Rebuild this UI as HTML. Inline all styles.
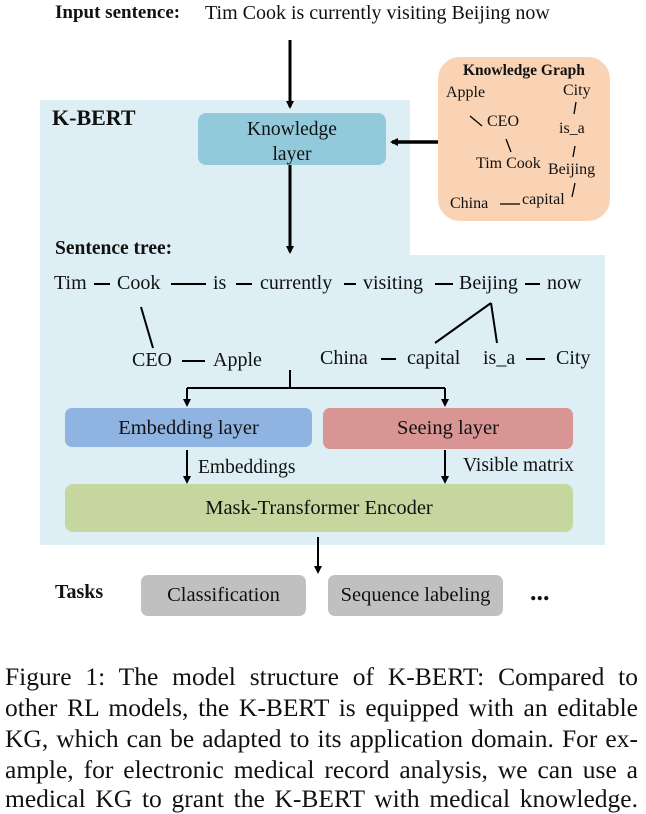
<!DOCTYPE html>
<html><head><style>
body{margin:0;width:646px;height:810px;background:#fff;position:relative;font-family:"Liberation Serif",serif;overflow:hidden;color:#111}
.a{position:absolute;white-space:nowrap}
.cl{position:absolute;left:5px;width:633px;font-size:25.5px;text-align:justify;text-align-last:justify;white-space:nowrap;color:#111}
</style></head><body>
<svg width="646" height="650" style="position:absolute;left:0;top:0">
<defs><marker id="m" markerWidth="8" markerHeight="8" refX="6" refY="4" orient="auto" markerUnits="userSpaceOnUse"><path d="M0,0 L8,4 L0,8 z" fill="#000"/></marker></defs>
<path d="M40,100 H410 V255 H605 V545 H40 Z" fill="#ddeef4"/>
<rect x="198" y="113" width="188" height="52" rx="8" fill="#93cadb"/>
<rect x="438" y="57" width="172" height="164" rx="22" fill="#f9d3b4"/>
<rect x="65" y="408" width="247" height="39" rx="7" fill="#8fb4e2"/>
<rect x="323" y="408" width="250" height="41" rx="7" fill="#d99594"/>
<rect x="65" y="484" width="508" height="48" rx="8" fill="#c5d69e"/>
<rect x="141" y="575" width="165" height="41" rx="7" fill="#c0c0c0"/>
<rect x="328" y="575" width="175" height="41" rx="7" fill="#c0c0c0"/>
<g stroke="#000" fill="none">
<line x1="290" y1="40" x2="290" y2="107" stroke-width="3" marker-end="url(#m)"/>
<line x1="290" y1="165" x2="290" y2="252" stroke-width="3" marker-end="url(#m)"/>
<line x1="438" y1="142" x2="392" y2="142" stroke-width="3.5" marker-end="url(#m)"/>
<path d="M290,370 V388 M187,388 H445" stroke-width="2"/>
<line x1="187" y1="388" x2="187" y2="405" stroke-width="2" marker-end="url(#m)"/>
<line x1="445" y1="388" x2="445" y2="405" stroke-width="2" marker-end="url(#m)"/>
<line x1="187" y1="450" x2="187" y2="482" stroke-width="2" marker-end="url(#m)"/>
<line x1="445" y1="450" x2="445" y2="482" stroke-width="2" marker-end="url(#m)"/>
<line x1="318" y1="537" x2="318" y2="572" stroke-width="2" marker-end="url(#m)"/>
<g stroke-width="2">
<line x1="94" y1="284" x2="110" y2="284"/><line x1="171" y1="284" x2="206" y2="284"/>
<line x1="236" y1="284" x2="252" y2="284"/><line x1="344" y1="284" x2="356" y2="284"/>
<line x1="435" y1="284" x2="453" y2="284"/><line x1="525" y1="284" x2="540" y2="284"/>
<line x1="141" y1="307" x2="153" y2="348"/>
<line x1="435" y1="343" x2="491" y2="303"/><line x1="491" y1="303" x2="497" y2="343"/>
<line x1="182" y1="361" x2="205" y2="361"/><line x1="381" y1="359" x2="396" y2="359"/>
<line x1="526" y1="359" x2="545" y2="359"/>
</g>
<g stroke-width="1.3">
<line x1="470" y1="116" x2="482" y2="126"/><line x1="506" y1="139" x2="511" y2="152"/>
<line x1="576" y1="102" x2="574" y2="114"/><line x1="575" y1="146" x2="573" y2="157"/>
<line x1="575" y1="183" x2="572" y2="197"/><line x1="500" y1="204" x2="520" y2="204"/>
</g>
</g>
</svg>
<div class="a" style="left:55px;top:2px;font-size:19px;font-weight:bold">Input sentence:</div>
<div class="a" style="left:205px;top:2px;font-size:20px">Tim Cook is currently visiting Beijing now</div>
<div class="a" style="left:52px;top:105px;font-size:22px;font-weight:bold">K-BERT</div>
<div class="a" style="left:198px;top:117px;width:188px;text-align:center;font-size:19.5px;line-height:25px">Knowledge<br>layer</div>
<div class="a" style="left:463px;top:62px;font-size:15.5px;font-weight:bold">Knowledge Graph</div>
<div class="a" style="left:446px;top:84px;font-size:16px">Apple</div>
<div class="a" style="left:487px;top:113px;font-size:16px">CEO</div>
<div class="a" style="left:476px;top:155px;font-size:16px">Tim Cook</div>
<div class="a" style="left:563px;top:82px;font-size:16px">City</div>
<div class="a" style="left:559px;top:120px;font-size:16px">is_a</div>
<div class="a" style="left:548px;top:161px;font-size:16px">Beijing</div>
<div class="a" style="left:450px;top:195px;font-size:16px">China</div>
<div class="a" style="left:522px;top:191px;font-size:16px">capital</div>
<div class="a" style="left:55px;top:238px;font-size:19.5px;font-weight:bold">Sentence tree:</div>
<div class="a" style="left:54px;top:272px;font-size:20px">Tim</div>
<div class="a" style="left:117px;top:272px;font-size:20px">Cook</div>
<div class="a" style="left:213px;top:272px;font-size:20px">is</div>
<div class="a" style="left:260px;top:272px;font-size:20px">currently</div>
<div class="a" style="left:363px;top:272px;font-size:20px">visiting</div>
<div class="a" style="left:459px;top:272px;font-size:20px">Beijing</div>
<div class="a" style="left:547px;top:272px;font-size:20px">now</div>
<div class="a" style="left:132px;top:349px;font-size:20px">CEO</div>
<div class="a" style="left:213px;top:349px;font-size:20px">Apple</div>
<div class="a" style="left:320px;top:347px;font-size:20px">China</div>
<div class="a" style="left:407px;top:347px;font-size:20px">capital</div>
<div class="a" style="left:483px;top:347px;font-size:20px">is_a</div>
<div class="a" style="left:556px;top:347px;font-size:20px">City</div>
<div class="a" style="left:65px;top:417px;width:247px;text-align:center;font-size:20.5px">Embedding layer</div>
<div class="a" style="left:323px;top:417px;width:250px;text-align:center;font-size:20.5px">Seeing layer</div>
<div class="a" style="left:198px;top:457px;font-size:19.5px">Embeddings</div>
<div class="a" style="left:463px;top:455px;font-size:19.5px">Visible matrix</div>
<div class="a" style="left:65px;top:497px;width:508px;text-align:center;font-size:20.5px">Mask-Transformer Encoder</div>
<div class="a" style="left:55px;top:581px;font-size:20px;font-weight:bold">Tasks</div>
<div class="a" style="left:141px;top:584px;width:165px;text-align:center;font-size:20.5px">Classification</div>
<div class="a" style="left:328px;top:584px;width:175px;text-align:center;font-size:20.5px">Sequence labeling</div>
<div class="a" style="left:530px;top:577px;font-size:26px;font-weight:bold">...</div>
<div class="cl" style="top:662px">Figure 1: The model structure of K-BERT: Compared to</div>
<div class="cl" style="top:693px">other RL models, the K-BERT is equipped with an editable</div>
<div class="cl" style="top:724px">KG, which can be adapted to its application domain. For ex-</div>
<div class="cl" style="top:755px">ample, for electronic medical record analysis, we can use a</div>
<div class="cl" style="top:784px">medical KG to grant the K-BERT with medical knowledge.</div>
</body></html>
